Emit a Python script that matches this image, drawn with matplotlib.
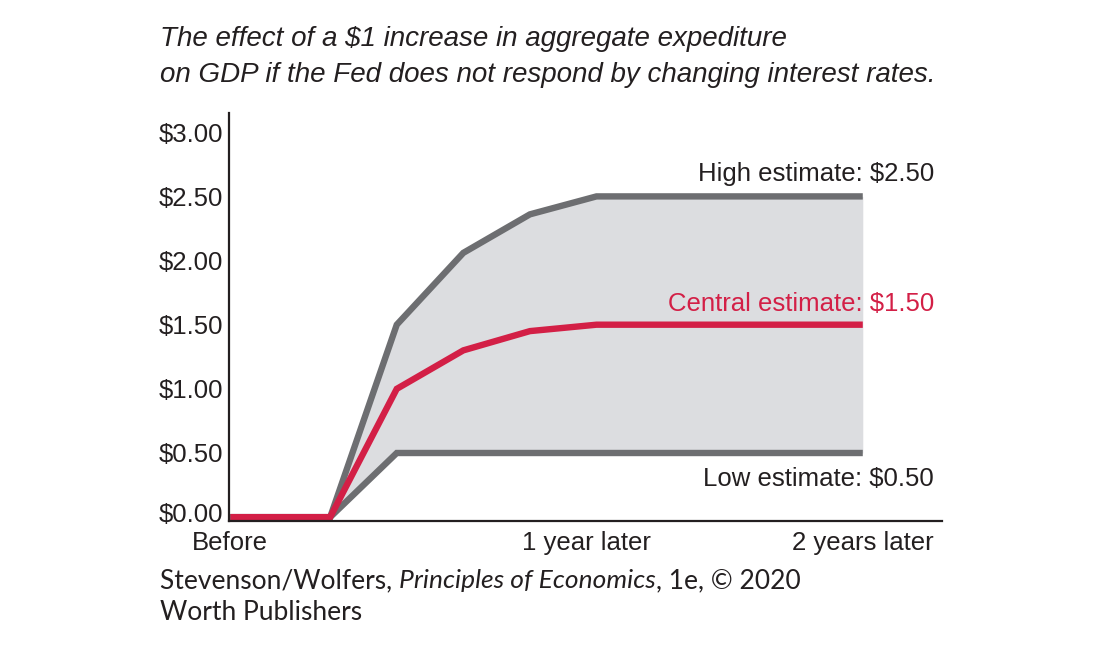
import matplotlib
matplotlib.use("Agg")
import matplotlib.pyplot as plt
import matplotlib.transforms as mtransforms

# quarters relative to the spending increase
quarters = [-1.5, 0, 1, 2, 3, 4, 8]
high_est = [0, 0, 1.50, 2.06, 2.36, 2.50, 2.50]
central_est = [0, 0, 1.00, 1.30, 1.45, 1.50, 1.50]
low_est = [0, 0, 0.50, 0.50, 0.50, 0.50, 0.50]

y_ticks = [0, 0.5, 1.0, 1.5, 2.0, 2.5, 3.0]
y_labels = ["$0.00", "$0.50", "$1.00", "$1.50", "$2.00", "$2.50", "$3.00"]
x_ticks = [-1.5, 3.85, 8]
x_labels = ["Before", "1 year later", "2 years later"]

GRAY = "#6d6e71"
RED = "#d31f46"
FILL = "#dcdde0"
INK = "#231f20"

plt.rcParams["font.family"] = ["Liberation Sans", "DejaVu Sans"]

fig = plt.figure(figsize=(11, 6.48), dpi=100)
ax = fig.add_axes([229 / 1100, 1 - 521 / 648, (942 - 229) / 1100, (521 - 113) / 648])

ax.fill_between(quarters[1:], low_est[1:], high_est[1:], color=FILL, lw=0)
ax.plot(quarters, high_est, color=GRAY, lw=4.6, solid_joinstyle="miter", solid_capstyle="butt")
ax.plot(quarters, low_est, color=GRAY, lw=4.6, solid_joinstyle="miter", solid_capstyle="butt")
ax.plot(quarters, central_est, color=RED, lw=4.6, solid_joinstyle="miter", solid_capstyle="butt")

ax.set_xlim(-1.52, 9.19)
ax.set_ylim(-0.03, 3.15)

for s in ["top", "right"]:
    ax.spines[s].set_visible(False)
for s in ["left", "bottom"]:
    ax.spines[s].set_color(INK)
    ax.spines[s].set_linewidth(1.6)

ax.set_yticks(y_ticks)
ax.set_yticklabels(y_labels)
ax.set_xticks(x_ticks)
ax.set_xticklabels(x_labels)
ax.tick_params(axis="both", length=0, labelsize=18.5, colors=INK)
ax.tick_params(axis="y", pad=4)
ax.tick_params(axis="x", pad=7)
# nudge the $0.00 label up, like the original
lbl0 = ax.get_yticklabels()[0]
lbl0.set_transform(lbl0.get_transform() + mtransforms.ScaledTranslation(0, 5 / 100, fig.dpi_scale_trans))

# series labels
ax.text(9.07, 2.675, "High estimate: $2.50", ha="right", va="center", fontsize=18.5, color=INK)
ax.text(9.07, 1.665, "Central estimate: $1.50", ha="right", va="center", fontsize=18.5, color=RED)
ax.text(9.07, 0.30, "Low estimate: $0.50", ha="right", va="center", fontsize=18.5, color=INK)

# title
fig.text(160 / 1100, 1 - 39 / 648, "The effect of a $1 increase in aggregate expediture",
         fontsize=20, style="italic", color=INK, va="center")
fig.text(160 / 1100, 1 - 75 / 648, "on GDP if the Fed does not respond by changing interest rates.",
         fontsize=20, style="italic", color=INK, va="center")

# source line, with the book title in italics
renderer = fig.canvas.get_renderer()
x = 160
y1 = 1 - 581 / 648
parts = [("Stevenson/Wolfers, ", "normal"), ("Principles of Economics", "italic"), (", 1e, \u00a9 2020", "normal")]
for txt, st in parts:
    t = fig.text(x / 1100, y1, txt, fontsize=19, family="Lato", style=st, color=INK, va="center")
    bb = t.get_window_extent(renderer)
    x += bb.width
fig.text(160 / 1100, 1 - 613 / 648, "Worth Publishers", fontsize=19, family="Lato", color=INK, va="center")

fig.savefig("out.png", dpi=100)
